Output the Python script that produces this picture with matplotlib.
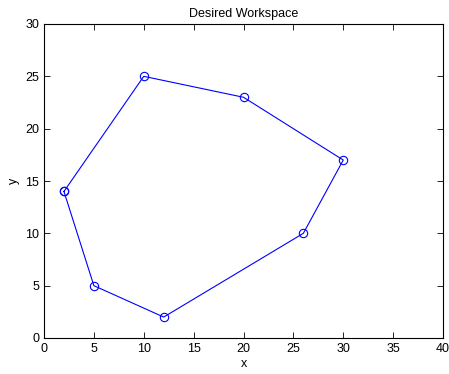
import matplotlib
matplotlib.use('Agg')
import matplotlib.pyplot as plt

# polygon vertices (closed)
xs = [2, 10, 20, 30, 26, 12, 5, 2]
ys = [14, 25, 23, 17, 10, 2, 5, 14]

x_ticks = [0, 5, 10, 15, 20, 25, 30, 35, 40]
y_ticks = [0, 5, 10, 15, 20, 25, 30]

plt.rcParams['font.family'] = ['Liberation Sans', 'DejaVu Sans']
plt.rcParams['font.size'] = 8

fig = plt.figure(figsize=(4.49, 3.74), dpi=100)
ax = fig.add_axes([44/449, 36/374, 399/449, 314/374])
ax.plot(xs, ys, color='#0000ff', lw=0.8, marker='o', ms=6, mfc='none', mec='#0000ff', mew=0.8)
ax.set_xlim(0, 40)
ax.set_ylim(0, 30)
ax.set_xticks(x_ticks)
ax.set_yticks(y_ticks)
ax.tick_params(direction='in', top=True, right=True, length=4, width=0.6, labelsize=9)
for s in ax.spines.values():
    s.set_linewidth(0.8)
ax.set_xlabel('x', fontsize=9, labelpad=2)
ax.set_ylabel('y', fontsize=9, labelpad=4)
ax.set_title('Desired Workspace', fontsize=9, pad=5)
fig.savefig('out.png', dpi=100)
